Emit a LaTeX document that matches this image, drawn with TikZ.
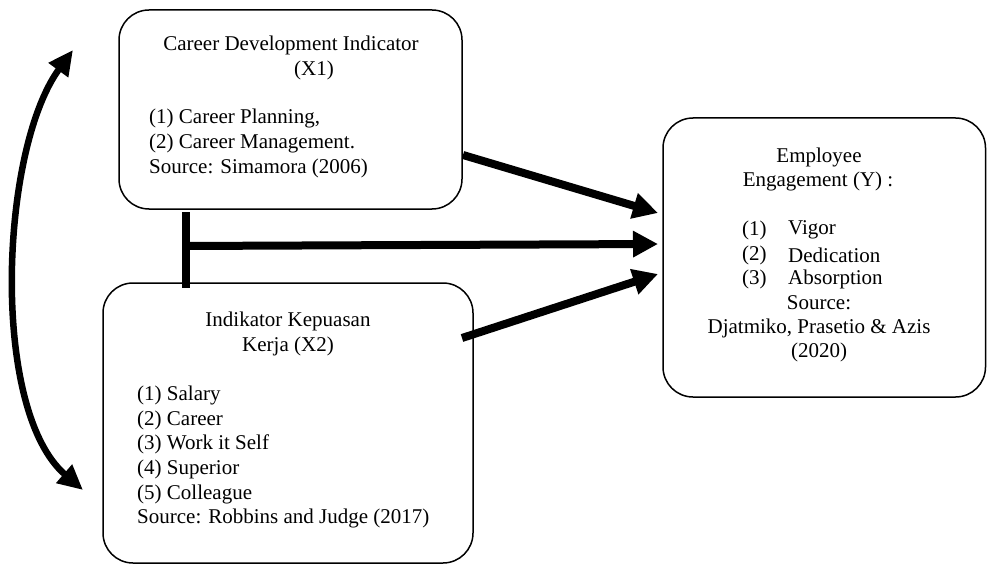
\documentclass[tikz,border=0pt]{standalone}
\usepackage{fontspec}
\setmainfont{Liberation Serif}
\usetikzlibrary{arrows.meta}
\begin{document}
\begin{tikzpicture}[x=1pt,y=-1pt,
  box/.style={draw,line width=1.5pt,rounded corners=30pt},
  txt/.style={inner sep=0pt,font=\fontsize{21}{24}\selectfont},
  lt/.style={txt,anchor=west},
  big/.style={line width=8pt,-{Triangle[length=25pt,width=25pt]}},
  bar/.style={line width=8pt}]
\useasboundingbox (0,0) rectangle (987,564);
% boxes
\draw[box] (119,10) rectangle (462,209);
\node (x1) at (290.5,109.5) {};
\draw[box] (103,283) rectangle (473,563);
\node (x2) at (288,423) {};
\draw[box] (663,118) rectangle (985.5,397);
\node (y) at (824,257.5) {};
% X1 text
\node[txt] (t1) at (291,45) {Career Development Indicator};
\node[txt] (t2) at (314,70) {(X1)};
\node[lt] (t3) at (149,118) {(1) Career Planning,};
\node[lt] (t4) at (149,143) {(2) Career Management.};
\node[lt] (t5) at (149,168) {Source: Simamora (2006)};
% X2 text
\node[txt] (u1) at (288,321) {Indikator Kepuasan};
\node[txt] (u2) at (288,346) {Kerja (X2)};
\node[lt] (u3) at (137,395) {(1) Salary};
\node[lt] (u4) at (137,420) {(2) Career};
\node[lt] (u5) at (137,444) {(3) Work it Self};
\node[lt] (u6) at (137,469) {(4) Superior};
\node[lt] (u7) at (137,494) {(5) Colleague};
\node[lt] (u8) at (137,518) {Source: Robbins and Judge (2017)};
% Y text
\node[txt] (v1) at (819,157) {Employee};
\node[txt] (v2) at (818,181) {Engagement (Y) :};
\node[lt] (v3) at (742,230) {(1)};
\node[lt] (v4) at (788,230) {Vigor};
\node[lt] (v5) at (742,255) {(2)};
\node[lt] (v6) at (788,255) {Dedication};
\node[lt] (v7) at (742,279) {(3)};
\node[lt] (v8) at (788,279) {Absorption};
\node[txt] (v9) at (819,303) {Source:};
\node[txt] (v10) at (819,328) {Djatmiko, Prasetio \& Azis};
\node[txt] (v11) at (819,352) {(2020)};
% connectors
\coordinate (a1s) at (463,155);
\coordinate (a1e) at (658,213);
\coordinate (a2s) at (183,246);
\coordinate (a2e) at (658,244);
\coordinate (a3s) at (462,338);
\coordinate (a3e) at (658,274);
\coordinate (vb1) at (186,212);
\coordinate (vb2) at (186,288);
\coordinate (ct) at (73,50);
\coordinate (cb) at (83,490);
\draw[big] (a1s) -- (a1e);
\draw[big] (a2s) -- (a2e);
\draw[big] (a3s) -- (a3e);
\draw[bar] (vb1) -- (vb2);
\draw[line width=6.5pt,{Triangle[length=25pt,width=23pt]}-{Triangle[length=25pt,width=23pt]}]
  (ct) .. controls (0,150) and (-10,410) .. (cb);
\end{tikzpicture}
\end{document}
